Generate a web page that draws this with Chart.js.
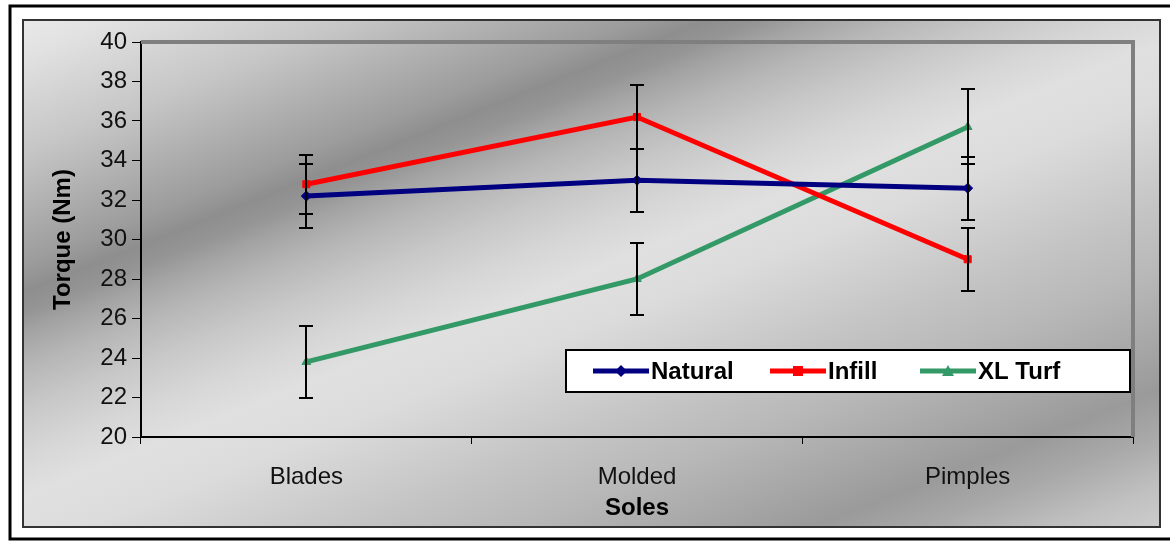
<!DOCTYPE html>
<html>
<head>
<meta charset="utf-8">
<script src="https://cdn.jsdelivr.net/npm/chart.js@4.4.0/dist/chart.umd.min.js"></script>
<style>
	html, body { margin: 0; padding: 0; background: #fff; }
	#wrap { width: 1170px; height: 541px; }
</style>
</head>
<body>
<div id="wrap"><canvas id="torque-chart" width="1170" height="541"></canvas></div>
<script>
// data
const categories = ["Blades", "Molded", "Pimples"];
const seriesNames = ["Natural", "Infill", "XL Turf"];
const natural = [32.2, 33.0, 32.6];
const infill = [32.8, 36.2, 29.0];
const xlTurf = [23.8, 28.0, 35.7];
const naturalErr = [1.6, 1.6, 1.6];
const infillErr = [1.5, 1.6, 1.6];
const xlTurfErr = [1.8, 1.8, 1.9];
const yMin = 20;
const yMax = 40;
const yStep = 2;
const xTitle = "Soles";
const yTitle = "Torque (Nm)";

const FONT = "'Liberation Sans', Arial, sans-serif";
const errors = [naturalErr, infillErr, xlTurfErr];

// background: white page, black frame, grey diagonal gradient panel
var frameBg = {
	id: "frameBg",
	beforeDraw: function (chart) {
		const c = chart.ctx;
		c.save();
		c.fillStyle = "#fff";
		c.fillRect(0, 0, chart.width, chart.height);

		const g = c.createLinearGradient(0, 0, 348, 874);
		const stops = [
			[0, "#eeeeee"], [60, "#e2e2e2"], [110, "#d2d2d2"], [150, "#c6c6c6"],
			[190, "#b6b6b6"], [225, "#a8a8a8"], [255, "#9c9c9c"], [280, "#8e8e8e"],
			[300, "#959595"], [320, "#a4a4a4"], [350, "#b6b6b6"], [390, "#c8c8c8"],
			[430, "#d6d6d6"], [470, "#e0e0e0"], [520, "#dcdcdc"], [570, "#d0d0d0"],
			[620, "#c4c4c4"], [680, "#b8b8b8"], [740, "#a8a8a8"], [790, "#9a9a9a"],
			[830, "#a8a8a8"], [880, "#c0c0c0"], [940, "#d4d4d4"]
		];
		stops.forEach(function (s) { g.addColorStop(s[0] / 940, s[1]); });
		c.fillStyle = g;
		c.fillRect(23, 20, 1137, 507);
		c.strokeStyle = "#333";
		c.lineWidth = 2;
		c.strokeRect(23, 20, 1137, 507);

		c.strokeStyle = "#000";
		c.lineWidth = 3;
		c.beginPath();
		c.moveTo(chart.width + 5, 6);
		c.lineTo(10, 6);
		c.lineTo(10, 539);
		c.lineTo(chart.width + 5, 539);
		c.stroke();
		c.restore();
	},
	beforeDatasetsDraw: function (chart) {
		// grey top/right edge of the plot area
		const a = chart.chartArea;
		const c = chart.ctx;
		c.save();
		c.strokeStyle = "#7f7f7f";
		c.lineWidth = 4;
		c.beginPath();
		c.moveTo(a.left, a.top);
		c.lineTo(a.right, a.top);
		c.lineTo(a.right, a.bottom);
		c.stroke();
		c.restore();
	}
};

// error bars from the err arrays through the y scale
var errorBars = {
	id: "errorBars",
	afterDatasetsDraw: function (chart) {
		const c = chart.ctx;
		const ys = chart.scales.y;
		c.save();
		c.strokeStyle = "#000";
		c.lineWidth = 2;
		chart.data.datasets.forEach(function (ds, i) {
			const meta = chart.getDatasetMeta(i);
			meta.data.forEach(function (pt, j) {
				const v = ds.data[j];
				const e = errors[i][j];
				const yt = Math.round(ys.getPixelForValue(v + e));
				const yb = Math.round(ys.getPixelForValue(v - e));
				const x = Math.round(pt.x);
				c.beginPath();
				c.moveTo(x, yt); c.lineTo(x, yb);
				c.moveTo(x - 7, yt); c.lineTo(x + 7, yt);
				c.moveTo(x - 7, yb); c.lineTo(x + 7, yb);
				c.stroke();
			});
		});
		c.restore();
	}
};

function drawMarker(c, style, x, y, color) {
	c.fillStyle = color;
	c.beginPath();
	if (style === "rectRot") {
		c.moveTo(x, y - 6); c.lineTo(x + 6, y); c.lineTo(x, y + 6); c.lineTo(x - 6, y);
	} else if (style === "rect") {
		c.rect(x - 5, y - 5, 10, 10);
	} else {
		c.moveTo(x, y - 6); c.lineTo(x + 6, y + 5); c.lineTo(x - 6, y + 5);
	}
	c.closePath();
	c.fill();
}

// boxed legend inside the plot, lower right
var boxLegend = {
	id: "boxLegend",
	afterDraw: function (chart) {
		const c = chart.ctx;
		const a = chart.chartArea;
		const bx = a.right - 567, by = a.bottom - 87, bw = 564, bh = 42;
		c.save();
		c.fillStyle = "#fff";
		c.fillRect(bx, by, bw, bh);
		c.strokeStyle = "#000";
		c.lineWidth = 2;
		c.strokeRect(bx, by, bw, bh);
		const starts = [bx + 27, bx + 204, bx + 354];
		const ym = by + bh / 2;
		c.font = "bold 24px " + FONT;
		c.textBaseline = "middle";
		chart.data.datasets.forEach(function (ds, i) {
			const x0 = starts[i];
			c.strokeStyle = ds.borderColor;
			c.lineWidth = 5;
			c.beginPath();
			c.moveTo(x0, ym); c.lineTo(x0 + 56, ym);
			c.stroke();
			drawMarker(c, ds.pointStyle, x0 + 28, ym, ds.borderColor);
			c.fillStyle = "#000";
			c.fillText(ds.label, x0 + 58, ym + 1);
		});
		c.restore();
	}
};

function makeSet(name, values, color, style) {
	return {
		label: name,
		data: values,
		borderColor: color,
		backgroundColor: color,
		borderWidth: 5,
		pointStyle: style,
		pointRadius: 5,
		pointBorderWidth: 1,
		tension: 0
	};
}

const ctx = document.getElementById("torque-chart").getContext("2d");
const myChart = new Chart(ctx, {
	type: "line",
	data: {
		labels: categories,
		datasets: [
			makeSet(seriesNames[0], natural, "#000080", "rectRot"),
			makeSet(seriesNames[1], infill, "#ff0000", "rect"),
			makeSet(seriesNames[2], xlTurf, "#339966", "triangle")
		]
	},
	plugins: [frameBg, errorBars, boxLegend],
	options: {
		responsive: false,
		animation: false,
		layout: { padding: { left: 49, top: 42, right: 37, bottom: 0 } },
		plugins: {
			legend: { display: false },
			tooltip: { enabled: false },
			title: { display: false }
		},
		scales: {
			x: {
				type: "category",
				offset: true,
				afterFit: function (scale) { scale.height = 104; },
				grid: { offset: true, drawOnChartArea: false, drawTicks: true, tickLength: 7, color: "#000", lineWidth: 1 },
				border: { display: true, color: "#000", width: 2 },
				ticks: { color: "#111", font: { family: FONT, size: 24 }, padding: 19 },
				title: { display: true, text: xTitle, color: "#000", font: { family: FONT, size: 24, weight: "bold" }, padding: { top: 0, bottom: 18 } }
			},
			y: {
				min: yMin,
				max: yMax,
				afterFit: function (scale) { scale.width = 92; },
				grid: { drawOnChartArea: false, drawTicks: true, tickLength: 9, color: "#000", lineWidth: 1 },
				border: { display: true, color: "#000", width: 2 },
				ticks: { stepSize: yStep, color: "#111", font: { family: FONT, size: 24 }, padding: 5 },
				title: { display: true, text: yTitle, color: "#000", font: { family: FONT, size: 24, weight: "bold" }, padding: { top: 0, bottom: 0 } }
			}
		}
	}
});
</script>
</body>
</html>
